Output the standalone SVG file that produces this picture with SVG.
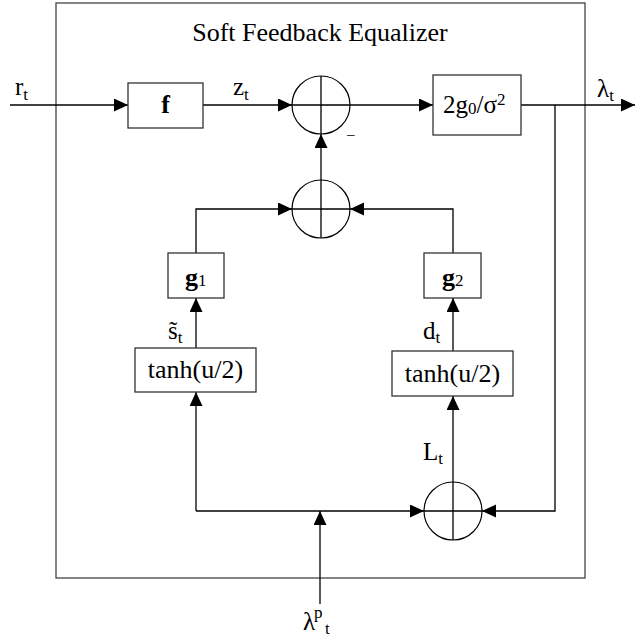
<svg xmlns="http://www.w3.org/2000/svg" width="635" height="639" viewBox="0 0 635 639">
  <style>
    .txt { font-family: "Liberation Serif", "Times New Roman", serif; fill: #000; }
    .big { font-size: 26px; }
    .lbl { font-size: 25px; }
    .sub { font-size: 17px; }
    .box { fill: #fff; stroke: #333; stroke-width: 1.3; }
    .sum { fill: #fff; stroke: #000; stroke-width: 1.2; }
    .wire { fill: none; stroke: #000; stroke-width: 1.3; }
    .arr { fill: none; stroke: #000; stroke-width: 1.3; marker-end: url(#head); }
  </style>
  <defs>
    <marker id="head" markerUnits="userSpaceOnUse" markerWidth="15" markerHeight="14" refX="14" refY="6.5" orient="auto">
      <path d="M0,0 L14,6.5 L0,13 Z" fill="#000"/>
    </marker>
  </defs>

  <rect width="635" height="639" fill="#fff"/>

  <!-- equalizer enclosure -->
  <g id="frame">
    <rect x="56" y="3" width="529" height="575" fill="none" stroke="#444" stroke-width="1.3"/>
    <text class="txt big" x="320" y="41" text-anchor="middle">Soft Feedback Equalizer</text>
  </g>

  <!-- connectors -->
  <g id="connectors">
    <line class="arr" x1="10" y1="105" x2="128" y2="105"/>
    <line class="arr" x1="203" y1="105" x2="292" y2="105"/>
    <line class="arr" x1="350" y1="105" x2="433" y2="105"/>
    <line class="arr" x1="521" y1="105" x2="635" y2="105"/>
    <polyline class="arr" points="555,105 555,511 482,511"/>
    <line class="arr" x1="321" y1="180" x2="321" y2="134"/>
    <polyline class="arr" points="196,253 196,209 292,209"/>
    <polyline class="arr" points="453,253 453,209 350,209"/>
    <line class="arr" x1="196" y1="348" x2="196" y2="298"/>
    <line class="arr" x1="453" y1="351" x2="453" y2="298"/>
    <line class="arr" x1="196" y1="511" x2="196" y2="392"/>
    <line class="arr" x1="196" y1="511" x2="424" y2="511"/>
    <line class="arr" x1="320" y1="604" x2="320" y2="511"/>
    <line class="arr" x1="453" y1="482" x2="453" y2="396"/>
  </g>

  <!-- signal labels -->
  <g id="labels">
    <text class="txt lbl" x="15" y="95">r<tspan class="sub" dy="5">t</tspan></text>
    <text class="txt lbl" x="233" y="95">z<tspan class="sub" dy="5">t</tspan></text>
    <text class="txt lbl" x="597" y="97">λ<tspan class="sub" dy="4">t</tspan></text>
    <text class="txt lbl" x="168" y="339">s̃<tspan class="sub" dy="4">t</tspan></text>
    <text class="txt lbl" x="423" y="339">d<tspan class="sub" dy="4">t</tspan></text>
    <text class="txt lbl" x="423" y="460">L<tspan class="sub" dy="4">t</tspan></text>
    <text class="txt lbl" x="303" y="630">λ</text>
    <text class="txt sub" x="314" y="618">p</text>
    <text class="txt sub" x="325" y="634">t</text>
    <text class="txt" x="347" y="139" font-size="15">–</text>
  </g>

  <g id="filter-f">
    <rect class="box" x="128" y="83" width="75" height="45"/>
    <text class="txt big" x="165.5" y="113" text-anchor="middle" font-weight="bold">f</text>
  </g>

  <g id="sum-top">
    <circle class="sum" cx="321" cy="105" r="29"/>
    <path class="wire" d="M292,105 H350 M321,76 V134"/>
  </g>

  <g id="gain">
    <rect class="box" x="433" y="75" width="88" height="60"/>
    <text class="txt" font-size="25" x="443" y="113">2g<tspan font-size="17" dy="1">0</tspan><tspan dy="-1">/σ</tspan><tspan font-size="17" dy="-8">2</tspan></text>
  </g>

  <g id="sum-mid">
    <circle class="sum" cx="321" cy="209" r="29"/>
    <path class="wire" d="M292,209 H350 M321,180 V238"/>
  </g>

  <g id="g1">
    <rect class="box" x="168" y="253" width="56" height="45"/>
    <text class="txt big" x="185" y="286" font-weight="bold">g<tspan class="sub" font-weight="normal">1</tspan></text>
  </g>

  <g id="g2">
    <rect class="box" x="424" y="253" width="57" height="45"/>
    <text class="txt big" x="442" y="286" font-weight="bold">g<tspan class="sub" font-weight="normal">2</tspan></text>
  </g>

  <g id="tanh-left">
    <rect class="box" x="135" y="348" width="121" height="44"/>
    <text class="txt big" x="195.5" y="378" text-anchor="middle">tanh(u/2)</text>
  </g>

  <g id="tanh-right">
    <rect class="box" x="392" y="351" width="121" height="45"/>
    <text class="txt big" x="452.5" y="382" text-anchor="middle">tanh(u/2)</text>
  </g>

  <g id="sum-bottom">
    <circle class="sum" cx="453" cy="511" r="29"/>
    <path class="wire" d="M424,511 H482 M453,482 V540"/>
  </g>
</svg>
